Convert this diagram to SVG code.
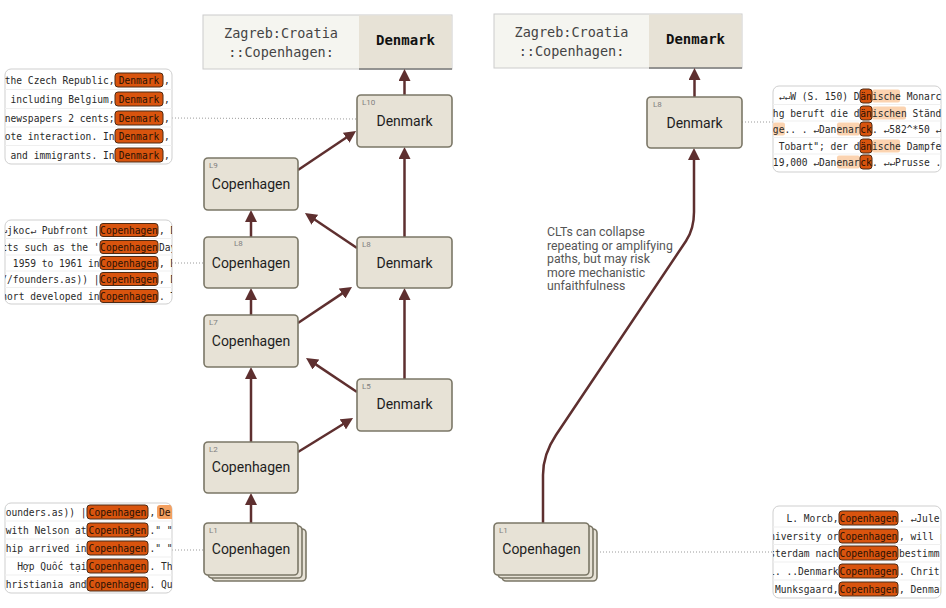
<svg xmlns="http://www.w3.org/2000/svg" width="946" height="608" viewBox="0 0 946 608">
<style>
.node{fill:#e7e2d6;stroke:#7b7767;stroke-width:1.6}
.lbl{font-family:Roboto,"Liberation Sans",sans-serif;font-size:14px;fill:#1e1e1e;text-anchor:middle}
.lay{font-family:Roboto,"Liberation Sans",sans-serif;font-size:8px;fill:#808080}
.edge{fill:none;stroke:#5e2f2f;stroke-width:2.5}
.dot{fill:none;stroke:#9a9a9a;stroke-width:1;stroke-dasharray:1 2}
.ctx{fill:#ffffff;stroke:#cfcfcf;stroke-width:1}
.sep{stroke:#efefef;stroke-width:1}
.mono{font-family:"DejaVu Sans Mono","Liberation Mono",monospace;font-size:9.6px;fill:#2a2a2a}
.end{text-anchor:end}
.mid{text-anchor:middle}
.pill{fill:#d9540e;stroke:#4d2a14;stroke-width:1}
.pt{fill:#2a1205}
.lt{fill:#fbd3b0}
.lt2{fill:#f3a061}
.tokl{fill:#f5f5f0;stroke:#cccccc;stroke-width:1}
.tokr{fill:#e7e2d6}
.tokt{font-family:"DejaVu Sans Mono","Liberation Mono",monospace;font-size:13.5px;fill:#444;text-anchor:middle}
.tokb{font-family:"DejaVu Sans Mono","Liberation Mono",monospace;font-size:14px;font-weight:bold;fill:#111;text-anchor:middle}
.note{font-family:Roboto,"Liberation Sans",sans-serif;font-size:12.3px;fill:#555}
</style>
<defs>
<marker id="ah" viewBox="0 0 10 10" refX="3.3" refY="5" markerWidth="12" markerHeight="12" markerUnits="userSpaceOnUse" orient="auto">
<path d="M0,0 L10,5 L0,10 z" fill="#5e2f2f"/>
</marker>
<clipPath id="c1"><rect x="5" y="69" width="167" height="95" rx="6"/></clipPath>
<clipPath id="c2"><rect x="5" y="220" width="167" height="84" rx="6"/></clipPath>
<clipPath id="c3"><rect x="5" y="503" width="167" height="90" rx="6"/></clipPath>
<clipPath id="c4"><rect x="773" y="86" width="168" height="86" rx="6"/></clipPath>
<clipPath id="c5"><rect x="773" y="506" width="168" height="92" rx="6"/></clipPath>
</defs>

<!-- output token boxes -->
<g id="token-left">
<rect class="tokl" x="203" y="15" width="249" height="54"/>
<rect class="tokr" x="359" y="15.5" width="92.5" height="53.5"/>
<line x1="359" y1="69" x2="452" y2="69" stroke="#777" stroke-width="1.5"/>
<text class="tokt" x="281" y="38">Zagreb:Croatia</text>
<text class="tokt" x="281" y="57">::Copenhagen:</text>
<text class="tokb" x="405.5" y="45">Denmark</text>
</g>
<g id="token-right">
<rect class="tokl" x="494" y="14" width="248" height="54"/>
<rect class="tokr" x="649" y="14.5" width="92.5" height="53.5"/>
<line x1="649" y1="68" x2="742" y2="68" stroke="#777" stroke-width="1.5"/>
<text class="tokt" x="571.5" y="37">Zagreb:Croatia</text>
<text class="tokt" x="571.5" y="56">::Copenhagen:</text>
<text class="tokb" x="695.5" y="44">Denmark</text>
</g>

<!-- connectors -->
<g id="connectors">
<line class="dot" x1="172" y1="118" x2="357" y2="119"/>
<line class="dot" x1="172" y1="263" x2="204" y2="263"/>
<line class="dot" x1="172" y1="550" x2="204" y2="550"/>
<line class="dot" x1="742" y1="122" x2="773" y2="122"/>
<line class="dot" x1="600" y1="552" x2="773" y2="552"/>

<line class="edge" marker-end="url(#ah)" x1="404.5" y1="95" x2="404.5" y2="77"/>
<line class="edge" marker-end="url(#ah)" x1="404.5" y1="237" x2="404.5" y2="155"/>
<line class="edge" marker-end="url(#ah)" x1="298" y1="170" x2="349.4" y2="135.5"/>
<line class="edge" marker-end="url(#ah)" x1="251" y1="237" x2="251" y2="218"/>
<line class="edge" marker-end="url(#ah)" x1="357" y1="248" x2="311.6" y2="217.5"/>
<line class="edge" marker-end="url(#ah)" x1="251" y1="315" x2="251" y2="296"/>
<line class="edge" marker-end="url(#ah)" x1="298" y1="323" x2="345.3" y2="291.4"/>
<line class="edge" marker-end="url(#ah)" x1="357" y1="392" x2="312.7" y2="362.4"/>
<line class="edge" marker-end="url(#ah)" x1="404.5" y1="379" x2="404.5" y2="296"/>
<line class="edge" marker-end="url(#ah)" x1="251" y1="442" x2="251" y2="375"/>
<line class="edge" marker-end="url(#ah)" x1="298" y1="452" x2="346.2" y2="422.2"/>
<line class="edge" marker-end="url(#ah)" x1="251" y1="523" x2="251" y2="501"/>

<line class="edge" marker-end="url(#ah)" x1="694.5" y1="97" x2="694.5" y2="76"/>
<path class="edge" marker-end="url(#ah)" d="M543 523 L543 475 Q543 454.4 556 435 L686 241 Q694 229.1 694 212 L694 156"/>
</g>

<!-- left graph nodes -->
<g id="L10"><rect class="node" x="357" y="95" width="95" height="52" rx="4"/><text class="lay" x="362" y="105">L10</text><text class="lbl" x="404.5" y="126">Denmark</text></g>
<g id="L9"><rect class="node" x="204" y="158" width="94" height="52" rx="4"/><text class="lay" x="209" y="168">L9</text><text class="lbl" x="251" y="189">Copenhagen</text></g>
<g id="L8-copenhagen"><rect class="node" x="204" y="237" width="94" height="51" rx="4"/><text class="lay" x="234" y="246">L8</text><text class="lbl" x="251" y="268">Copenhagen</text></g>
<g id="L8-denmark"><rect class="node" x="357" y="237" width="95" height="51" rx="4"/><text class="lay" x="362" y="247">L8</text><text class="lbl" x="404.5" y="268">Denmark</text></g>
<g id="L7"><rect class="node" x="204" y="315" width="94" height="52" rx="4"/><text class="lay" x="209" y="325">L7</text><text class="lbl" x="251" y="346">Copenhagen</text></g>
<g id="L5"><rect class="node" x="357" y="379" width="95" height="52" rx="4"/><text class="lay" x="362" y="389">L5</text><text class="lbl" x="404.5" y="409">Denmark</text></g>
<g id="L2"><rect class="node" x="204" y="442" width="94" height="51" rx="4"/><text class="lay" x="209" y="452">L2</text><text class="lbl" x="251" y="472">Copenhagen</text></g>
<g id="L1"><rect class="node" x="212" y="529" width="94" height="52" rx="4"/><rect class="node" x="208" y="526" width="94" height="52" rx="4"/><rect class="node" x="204" y="523" width="94" height="52" rx="4"/><text class="lay" x="209" y="533">L1</text><text class="lbl" x="251" y="554">Copenhagen</text></g>

<!-- right graph nodes -->
<g id="R-L8"><rect class="node" x="647" y="97" width="95" height="51" rx="4"/><text class="lay" x="653" y="107">L8</text><text class="lbl" x="694.5" y="128">Denmark</text></g>
<g id="R-L1"><rect class="node" x="502" y="529" width="95" height="52" rx="4"/><rect class="node" x="498" y="526" width="95" height="52" rx="4"/><rect class="node" x="494" y="523" width="95" height="52" rx="4"/><text class="lay" x="499" y="533">L1</text><text class="lbl" x="541.5" y="554">Copenhagen</text></g>

<g id="note">
<text class="note" x="547" y="236">CLTs can collapse</text>
<text class="note" x="547" y="249.5">repeating or amplifying</text>
<text class="note" x="547" y="263">paths, but may risk</text>
<text class="note" x="547" y="276.5">more mechanistic</text>
<text class="note" x="547" y="290">unfaithfulness</text>
</g>

<!-- context box 1 -->
<g id="ctx-L10">
<rect class="ctx" x="5" y="69" width="167" height="95" rx="6"/>
<g clip-path="url(#c1)">
<line class="sep" x1="5" y1="89.5" x2="172" y2="89.5"/><line class="sep" x1="5" y1="108.5" x2="172" y2="108.5"/><line class="sep" x1="5" y1="127" x2="172" y2="127"/><line class="sep" x1="5" y1="145.5" x2="172" y2="145.5"/>
<text class="mono end" x="114.5" y="83.5">the Czech Republic,</text><rect class="pill" x="115" y="73" width="48" height="14" rx="3"/><text class="mono mid pt" x="139" y="83.5">Denmark</text><text class="mono" x="164" y="83.5">,</text>
<text class="mono end" x="114.5" y="102.5"> including Belgium,</text><rect class="pill" x="115" y="92" width="48" height="14" rx="3"/><text class="mono mid pt" x="139" y="102.5">Denmark</text><text class="mono" x="164" y="102.5">,</text>
<text class="mono end" x="114.5" y="121.5">newspapers 2 cents;</text><rect class="pill" x="115" y="111" width="48" height="14" rx="3"/><text class="mono mid pt" x="139" y="121.5">Denmark</text><text class="mono" x="164" y="121.5">,</text>
<text class="mono end" x="114.5" y="139.5">note interaction. In</text><rect class="pill" x="115" y="129" width="48" height="14" rx="3"/><text class="mono mid pt" x="139" y="139.5">Denmark</text><text class="mono" x="164" y="139.5">,</text>
<text class="mono end" x="114.5" y="158.5"> and immigrants. In</text><rect class="pill" x="115" y="148" width="48" height="14" rx="3"/><text class="mono mid pt" x="139" y="158.5">Denmark</text><text class="mono" x="164" y="158.5">,</text>
</g>
</g>

<!-- context box 2 -->
<g id="ctx-L8">
<rect class="ctx" x="5" y="220" width="167" height="84" rx="6"/>
<g clip-path="url(#c2)">
<line class="sep" x1="5" y1="238.5" x2="172" y2="238.5"/><line class="sep" x1="5" y1="255" x2="172" y2="255"/><line class="sep" x1="5" y1="271" x2="172" y2="271"/><line class="sep" x1="5" y1="287.5" x2="172" y2="287.5"/>
<text class="mono end" x="99.5" y="233.5">↵jkoc↵ Pubfront |</text><rect class="pill" x="100" y="223.5" width="58" height="13" rx="3"/><text class="mono mid pt" x="129" y="233.5">Copenhagen</text><text class="mono" x="159" y="233.5">, D</text>
<text class="mono end" x="99.5" y="250.5">jects such as the '</text><rect class="pill" x="100" y="240.5" width="58" height="13" rx="3"/><text class="mono mid pt" x="129" y="250.5">Copenhagen</text><text class="mono" x="159" y="250.5">Day</text>
<text class="mono end" x="99.5" y="266.5"> 1959 to 1961 in</text><rect class="pill" x="100" y="256.5" width="58" height="13" rx="3"/><text class="mono mid pt" x="129" y="266.5">Copenhagen</text><text class="mono" x="159" y="266.5">, D</text>
<text class="mono end" x="99.5" y="282.5">//founders.as)) |</text><rect class="pill" x="100" y="272.5" width="58" height="13" rx="3"/><text class="mono mid pt" x="129" y="282.5">Copenhagen</text><text class="mono" x="159" y="282.5">, D</text>
<text class="mono end" x="99.5" y="299.5">cohort developed in</text><rect class="pill" x="100" y="289.5" width="58" height="13" rx="3"/><text class="mono mid pt" x="129" y="299.5">Copenhagen</text><text class="mono" x="159" y="299.5">. T</text>
</g>
</g>

<!-- context box 3 -->
<g id="ctx-L1">
<rect class="ctx" x="5" y="503" width="167" height="90" rx="6"/>
<g clip-path="url(#c3)">
<line class="sep" x1="5" y1="521" x2="172" y2="521"/><line class="sep" x1="5" y1="539" x2="172" y2="539"/><line class="sep" x1="5" y1="557" x2="172" y2="557"/><line class="sep" x1="5" y1="575" x2="172" y2="575"/>
<text class="mono end" x="86.5" y="515.5">founders.as)) |</text><rect class="pill" x="87" y="505" width="61" height="14" rx="3"/><text class="mono mid pt" x="117.5" y="515.5">Copenhagen</text><text class="mono" x="149.5" y="515.5">,</text><rect class="lt2" x="157" y="505" width="22" height="14" rx="3"/><text class="mono pt" x="159" y="515.5">De</text>
<text class="mono end" x="86.5" y="533.5"> with Nelson at</text><rect class="pill" x="87" y="523" width="61" height="14" rx="3"/><text class="mono mid pt" x="117.5" y="533.5">Copenhagen</text><text class="mono" x="149.5" y="533.5">." "</text>
<text class="mono end" x="86.5" y="551.5">ship arrived in</text><rect class="pill" x="87" y="541" width="61" height="14" rx="3"/><text class="mono mid pt" x="117.5" y="551.5">Copenhagen</text><text class="mono" x="149.5" y="551.5">." "</text>
<text class="mono end" x="86.5" y="569.5"> Hợp Quốc tại</text><rect class="pill" x="87" y="559" width="61" height="14" rx="3"/><text class="mono mid pt" x="117.5" y="569.5">Copenhagen</text><text class="mono" x="149.5" y="569.5">. Th</text>
<text class="mono end" x="86.5" y="587.5">Christiania and</text><rect class="pill" x="87" y="577" width="61" height="14" rx="3"/><text class="mono mid pt" x="117.5" y="587.5">Copenhagen</text><text class="mono" x="149.5" y="587.5">. Qu</text>
</g>
</g>

<!-- context box right top -->
<g id="ctx-R-L8">
<rect class="ctx" x="773" y="86" width="168" height="86" rx="6"/>
<g clip-path="url(#c4)">
<line class="sep" x1="773" y1="104.5" x2="941" y2="104.5"/><line class="sep" x1="773" y1="121" x2="941" y2="121"/><line class="sep" x1="773" y1="137.5" x2="941" y2="137.5"/><line class="sep" x1="773" y1="154" x2="941" y2="154"/>
<rect class="lt" x="872" y="89.5" width="28" height="13" rx="2"/>
<rect class="lt" x="872" y="106.5" width="34" height="13" rx="2"/>
<rect class="lt" x="773" y="122.5" width="12" height="13" rx="2"/><rect class="lt" x="837" y="122.5" width="23" height="13" rx="2"/>
<rect class="lt" x="872" y="139.5" width="28" height="13" rx="2"/>
<rect class="lt" x="837" y="155.5" width="23" height="13" rx="2"/>
<text class="mono end" x="859.5" y="99.5">↵↵W (S. 150) D</text><rect class="pill" x="860" y="89" width="12" height="14" rx="3"/><text class="mono mid pt" x="866" y="99.5">än</text><text class="mono" x="872" y="99.5">ische Monarch.</text>
<text class="mono end" x="859.5" y="116.5">thg beruft die d</text><rect class="pill" x="860" y="106" width="12" height="14" rx="3"/><text class="mono mid pt" x="866" y="116.5">än</text><text class="mono" x="872" y="116.5">ischen Stände</text>
<text class="mono end" x="859.5" y="132.5">ge.. . ↵Danenar</text><rect class="pill" x="860" y="122" width="12" height="14" rx="3"/><text class="mono mid pt" x="866" y="132.5">ck</text><text class="mono" x="872" y="132.5">. ↵582^*50 ↵</text>
<text class="mono end" x="859.5" y="149.5"> Tobart"; der d</text><rect class="pill" x="860" y="139" width="12" height="14" rx="3"/><text class="mono mid pt" x="866" y="149.5">än</text><text class="mono" x="872" y="149.5">ische Dampfer</text>
<text class="mono end" x="859.5" y="165.5">19,000 ↵Danenar</text><rect class="pill" x="860" y="155" width="12" height="14" rx="3"/><text class="mono mid pt" x="866" y="165.5">ck</text><text class="mono" x="872" y="165.5">. ↵↵Prusse .</text>
</g>
</g>

<!-- context box right bottom -->
<g id="ctx-R-L1">
<rect class="ctx" x="773" y="506" width="168" height="92" rx="6"/>
<g clip-path="url(#c5)">
<line class="sep" x1="773" y1="527" x2="941" y2="527"/><line class="sep" x1="773" y1="544.5" x2="941" y2="544.5"/><line class="sep" x1="773" y1="562" x2="941" y2="562"/><line class="sep" x1="773" y1="580" x2="941" y2="580"/>
<text class="mono end" x="838.5" y="521.5">L. Morcb,</text><rect class="pill" x="839" y="511" width="59" height="14" rx="3"/><text class="mono mid pt" x="868.5" y="521.5">Copenhagen</text><text class="mono" x="899" y="521.5">. ↵Jule</text>
<text class="mono end" x="838.5" y="539.5">University or</text><rect class="pill" x="839" y="529" width="59" height="14" rx="3"/><text class="mono mid pt" x="868.5" y="539.5">Copenhagen</text><text class="mono" x="899" y="539.5">, will r</text>
<text class="mono end" x="838.5" y="556.5">Amsterdam nach</text><rect class="pill" x="839" y="546" width="59" height="14" rx="3"/><text class="mono mid pt" x="868.5" y="556.5">Copenhagen</text><text class="mono" x="899" y="556.5"> bestimm</text>
<text class="mono end" x="838.5" y="574.5">l. ..Denmark</text><rect class="pill" x="839" y="564" width="59" height="14" rx="3"/><text class="mono mid pt" x="868.5" y="574.5">Copenhagen</text><text class="mono" x="899" y="574.5">. Chrit</text>
<text class="mono end" x="838.5" y="592.5">Munksgaard,</text><rect class="pill" x="839" y="582" width="59" height="14" rx="3"/><text class="mono mid pt" x="868.5" y="592.5">Copenhagen</text><text class="mono" x="899" y="592.5">, Denmar</text>
</g>
</g>
</svg>
